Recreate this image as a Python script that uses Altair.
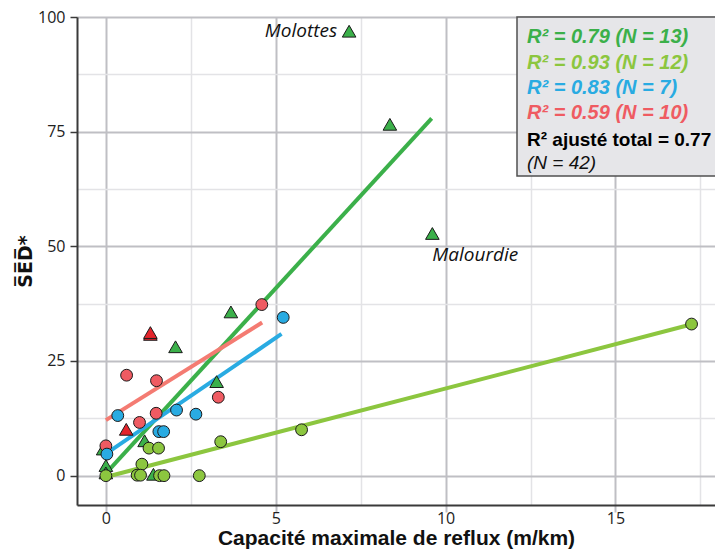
import altair as alt
import pandas as pd

# ---- data ----
dg_x = [7.16, 8.36, 9.61, 3.68, 2.05, 3.26, 1.14, -0.08, 0.0, 0.0, 1.40]
dg_y = [96.9, 76.6, 52.8, 35.7, 28.1, 20.5, 7.6, 5.8, 2.2, 0.6, 0.3]
rt_x = [1.31, 1.31, 0.60]
rt_y = [30.8, 31.2, 10.1]
rd_x = [0.99, 1.48, 0.0, 3.31, 4.59, 0.61, 1.49]
rd_y = [11.6, 13.6, 6.5, 17.1, 37.3, 21.9, 20.7]
bl_x = [0.35, 2.08, 1.56, 1.70, 0.03, 2.65, 5.22]
bl_y = [13.1, 14.3, 9.6, 9.6, 4.7, 13.4, 34.5]
lg_x = [0.0, 1.06, 0.92, 1.02, 1.58, 1.71, 1.27, 1.55, 2.75, 3.38, 5.76, 17.24]
lg_y = [0.0, 2.5, 0.1, 0.1, 0.0, 0.0, 6.0, 6.0, 0.0, 7.4, 10.0, 33.05]

# regression line end points
line_dg_x = [0.0, 9.59]
line_dg_y = [0.5, 77.9]
line_lg_x = [0.0, 17.25]
line_lg_y = [-0.3, 33.0]
line_bl_x = [0.05, 5.17]
line_bl_y = [5.0, 30.9]
line_rd_x = [0.0, 4.6]
line_rd_y = [12.1, 33.4]

labels_name = ["Molottes", "Malourdie"]
labels_x = [7.16, 9.61]
labels_y = [96.9, 52.8]

legend_lines = ["R² = 0.79 (N = 13)", "R² = 0.93 (N = 12)", "R² = 0.83 (N = 7)",
                "R² = 0.59 (N = 10)", "R² ajusté total = 0.77", "(N = 42)"]

C_DG = "#3bb04a"
C_LG = "#8cc63f"
C_BL = "#29abe2"
C_RD = "#ef5b62"
C_RT = "#e4242b"
C_RL = "#f47b72"

# ---- tables ----
rows = []
for xs, ys, col, shp, sz in [(dg_x, dg_y, C_DG, "triangle-up", 185),
                             (rt_x, rt_y, C_RT, "triangle-up", 185),
                             (rd_x, rd_y, C_RD, "circle", 140),
                             (bl_x, bl_y, C_BL, "circle", 140),
                             (lg_x, lg_y, C_LG, "circle", 140)]:
    for a, b in zip(xs, ys):
        rows.append({"x": a, "y": b, "col": col, "shape": shp, "size": sz})
pts = pd.DataFrame(rows)
pts["order"] = range(len(pts))

lrows = []
for name, xs, ys, col in [("dg", line_dg_x, line_dg_y, C_DG),
                          ("lg", line_lg_x, line_lg_y, C_LG),
                          ("bl", line_bl_x, line_bl_y, C_BL),
                          ("rd", line_rd_x, line_rd_y, C_RL)]:
    for a, b in zip(xs, ys):
        lrows.append({"x": a, "y": b, "col": col, "line": name})
lines = pd.DataFrame(lrows)

labs = pd.DataFrame({"name": labels_name, "x": labels_x, "y": labels_y})

XD = [-0.85, 17.93]
YD = [-6.4, 100]

xgrid = [0, 2.5, 5, 7.5, 10, 12.5, 15, 17.5]
ygrid = [0, 12.5, 25, 37.5, 50, 62.5, 75, 87.5, 100]

MAJ = "#bfbfc4"
MIN = "#e3e3e6"

xaxis = alt.Axis(
    values=xgrid, title="Capacité maximale de reflux (m/km)",
    labelExpr="datum.value % 5 === 0 ? '' + datum.value : ''",
    gridColor={"condition": {"test": "datum.value % 5 === 0", "value": MAJ}, "value": MIN},
    gridWidth={"condition": {"test": "datum.value % 5 === 0", "value": 2}, "value": 1.5},
    tickOpacity={"condition": {"test": "datum.value % 5 === 0", "value": 1}, "value": 0},
    tickColor=MAJ, tickSize=7, tickWidth=2,
    domainColor="#3a3a3a", domainWidth=2,
    labelFont="Open Sans", labelFontSize=16, labelColor="#222", labelPadding=-2,
    titleFont="Liberation Sans", titleFontSize=21, titleFontWeight="bold",
    titleColor="#111", titleBaseline="alphabetic", titleY=39,
)
yaxis = alt.Axis(
    values=ygrid, title="S̅E̅D̅*",
    labelExpr="datum.value % 25 === 0 ? '' + datum.value : ''",
    gridColor={"condition": {"test": "datum.value % 25 === 0", "value": MAJ}, "value": MIN},
    gridWidth={"condition": {"test": "datum.value % 25 === 0", "value": 2}, "value": 1.5},
    tickOpacity={"condition": {"test": "datum.value % 25 === 0", "value": 1}, "value": 0},
    tickColor="#3a3a3a", tickSize=7, tickWidth=1.5,
    domainColor="#3a3a3a", domainWidth=2,
    labelFont="Open Sans", labelFontSize=16, labelColor="#222", labelPadding=5,
    titleFont="DejaVu Sans", titleFontSize=19, titleFontWeight="bold",
    titleColor="#111", titlePadding=2,
)

xs = alt.Scale(domain=XD, nice=False, zero=False)
ys = alt.Scale(domain=YD, nice=False, zero=False)

base_lines = alt.Chart(lines).mark_line(strokeWidth=4, clip=True).encode(
    x=alt.X("x:Q", scale=xs, axis=xaxis),
    y=alt.Y("y:Q", scale=ys, axis=yaxis),
    color=alt.Color("col:N", scale=None),
    detail="line:N",
)

points = alt.Chart(pts).mark_point(filled=True, stroke="#1a1a1a", strokeWidth=1,
                                   opacity=1).encode(
    x=alt.X("x:Q", scale=xs),
    y=alt.Y("y:Q", scale=ys),
    fill=alt.Fill("col:N", scale=None),
    shape=alt.Shape("shape:N", scale=None),
    size=alt.Size("size:Q", scale=None),
    order="order:Q",
)

lab_mol = alt.Chart(labs[labs.name == "Molottes"]).mark_text(
    align="right", baseline="middle", dx=-12, dy=0, font="Open Sans",
    fontStyle="italic", fontSize=19, color="#111").encode(
    x=alt.X("x:Q", scale=xs), y=alt.Y("y:Q", scale=ys), text="name:N")
lab_mal = alt.Chart(labs[labs.name == "Malourdie"]).mark_text(
    align="left", baseline="middle", dx=0, dy=22, font="Open Sans",
    fontStyle="italic", fontSize=19, color="#111").encode(
    x=alt.X("x:Q", scale=xs), y=alt.Y("y:Q", scale=ys), text="name:N")

box = alt.Chart(pd.DataFrame({"a": [0]})).mark_rect(
    fill="#e6e6e9", stroke="#505050", strokeWidth=1.5).encode(
    x=alt.value(440), x2=alt.value(660), y=alt.value(0), y2=alt.value(159))

leg_cols = [C_DG, C_LG, C_BL, C_RD, "#000", "#111"]
leg_y = [20, 46, 71, 96, 123, 146]
leg_size = [20, 20, 20, 20, 19, 19]
leg_style = [("italic", "bold")] * 4 + [("normal", "bold"), ("italic", "normal")]
texts = []
for t, c, yy, fs, (st, wt) in zip(legend_lines, leg_cols, leg_y, leg_size, leg_style):
    texts.append(alt.Chart(pd.DataFrame({"a": [0]})).mark_text(
        text=t, align="left", baseline="middle", font="Liberation Sans",
        fontSize=fs, fontStyle=st, fontWeight=wt, color=c).encode(
        x=alt.value(450), y=alt.value(yy)))

chart = alt.layer(base_lines, points, lab_mol, lab_mal, box, *texts).properties(
    width=638, height=488,
    autosize=alt.AutoSizeParams(type="none"),
    padding={"left": 69, "top": 9, "right": 0, "bottom": 44},
).configure_view(stroke="#3a3a3a", strokeWidth=2).configure(background="white")

chart.save("out.html", embed_options={"renderer": "svg", "actions": False})
